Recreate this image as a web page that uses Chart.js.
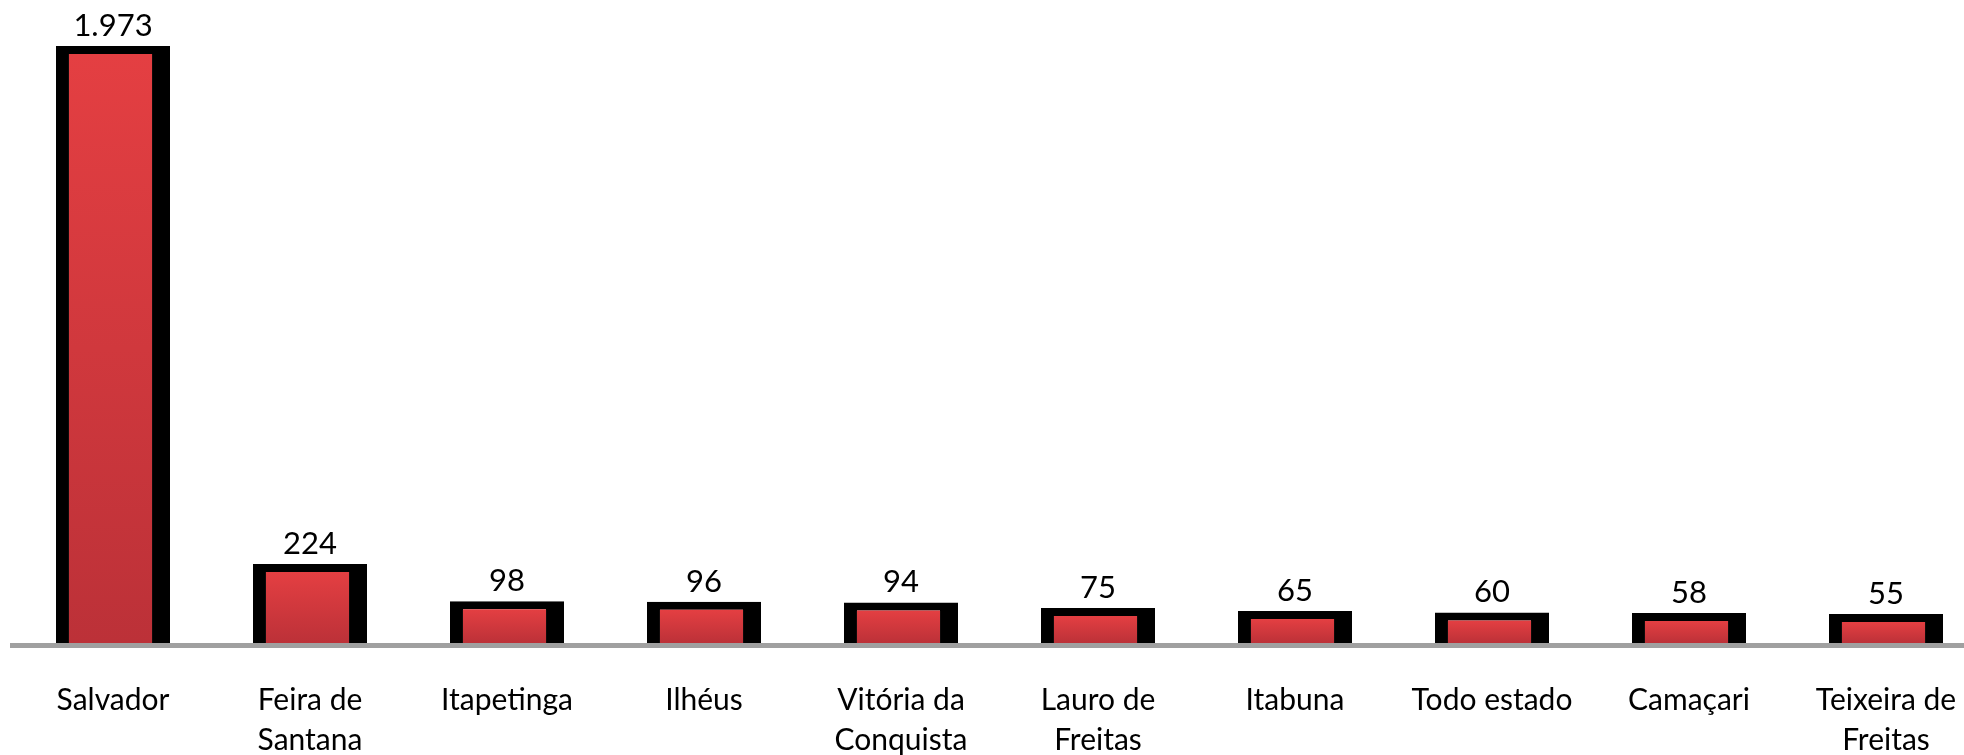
<!DOCTYPE html>
<html lang="pt">
<head>
    <meta charset="UTF-8">
    <title>Casos por município</title>
    <script src="https://cdn.jsdelivr.net/npm/chart.js"></script>
    <style>
        html, body { margin: 0; padding: 0; background: #fff; overflow: hidden; }
        #wrap { width: 1990px; height: 755px; position: relative; }
    </style>
</head>
<body>
    <div id="wrap"><canvas id="barChart"></canvas></div>
    <script>
        // data
        const cities = [
            'Salvador', ['Feira de', 'Santana'], 'Itapetinga', 'Ilhéus', ['Vitória da', 'Conquista'],
            ['Lauro de', 'Freitas'], 'Itabuna', 'Todo estado', 'Camaçari', ['Teixeira de', 'Freitas']
        ];
        const cases = [1973, 224, 98, 96, 94, 75, 65, 60, 58, 55];

        const fmt = v => String(v).replace(/\B(?=(\d{3})+(?!\d))/g, '.');

        // value labels above bars + gray base line
        const extras = {
            id: 'extras',
            afterDatasetsDraw(chart) {
                const ctx = chart.ctx;
                const area = chart.chartArea;
                ctx.save();
                ctx.strokeStyle = '#a0a0a0';
                ctx.lineWidth = 5;
                ctx.beginPath();
                ctx.moveTo(10, area.bottom + 2.5);
                ctx.lineTo(chart.width, area.bottom + 2.5);
                ctx.stroke();

                ctx.fillStyle = '#000';
                ctx.font = '31px Lato';
                ctx.textAlign = 'center';
                ctx.textBaseline = 'alphabetic';
                chart.getDatasetMeta(0).data.forEach((bar, i) => {
                    ctx.fillText(fmt(cases[i]), bar.x, bar.y - 10);
                });
                ctx.restore();
            }
        };

        const ctx = document.getElementById('barChart').getContext('2d');
        new Chart(ctx, {
            type: 'bar',
            data: {
                labels: cities,
                datasets: [{
                    data: cases,
                    base: -43,
                    backgroundColor: function(c) {
                        const chart = c.chart;
                        if (!chart.chartArea || c.raw === undefined) return '#d83a3e';
                        const top = chart.scales.y.getPixelForValue(c.raw) + 8;
                        const g = chart.ctx.createLinearGradient(0, top, 0, chart.chartArea.bottom);
                        g.addColorStop(0, '#e43f42');
                        g.addColorStop(1, '#bc3138');
                        return g;
                    },
                    borderColor: '#000',
                    borderWidth: { top: 8, left: 13, right: 18, bottom: 0 },
                    borderSkipped: false,
                    barPercentage: 0.579,
                    categoryPercentage: 1
                }]
            },
            options: {
                responsive: true,
                maintainAspectRatio: false,
                animation: false,
                layout: { padding: { top: 46, left: 14.5, right: 5.5, bottom: 0 } },
                plugins: {
                    legend: { display: false },
                    tooltip: { enabled: false }
                },
                scales: {
                    x: {
                        grid: { display: false },
                        border: { display: false },
                        ticks: {
                            color: '#000',
                            font: { family: 'Lato', size: 30, lineHeight: 1.33 },
                            padding: 29,
                            maxRotation: 0,
                            autoSkip: false
                        },
                        afterFit(scale) { scale.height = 112; }
                    },
                    y: {
                        display: false,
                        min: -43,
                        max: 1973
                    }
                }
            },
            plugins: [extras]
        });
    </script>
</body>
</html>
